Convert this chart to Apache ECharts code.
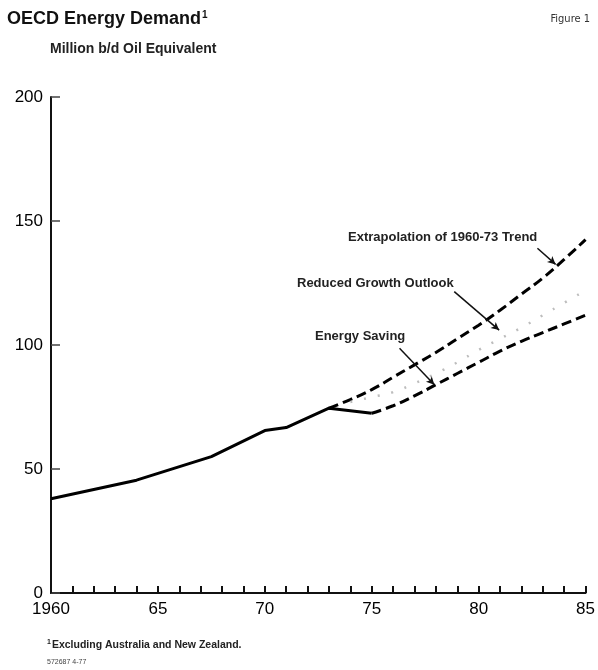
<!DOCTYPE html>
<html>
<head>
<meta charset="utf-8">
<script src="https://cdn.jsdelivr.net/npm/echarts@6/dist/echarts.min.js"></script>
<style>
html,body{margin:0;padding:0;background:#fff;}
#chart{width:598px;height:670px;}
</style>
</head>
<body>
<div id="chart"></div>
<script>
// ---- data ----
const histYears = [1960, 1964, 1967.5, 1970, 1971, 1973, 1975];
const histValues = [38, 45.5, 55, 65.5, 66.7, 74.5, 72.5];

const projYears = [1973, 1974, 1975, 1976, 1977, 1978, 1979, 1980, 1981, 1982, 1983, 1984, 1985];
const extrapolation = [74.5, 78, 82, 87, 92, 97, 102.5, 108, 114, 120.5, 127, 134.5, 142.5];

const reducedYears = [1974, 1975, 1976, 1977, 1978, 1979, 1980, 1981, 1982, 1983, 1984, 1985];
const reducedGrowth = [77, 79, 81, 84.5, 88.5, 93, 98, 102.5, 107, 112, 117, 122];

const savingYears = [1975, 1976, 1977, 1978, 1979, 1980, 1981, 1982, 1983, 1984, 1985];
const energySaving = [72.5, 75.5, 79.5, 84, 88.5, 93, 97.5, 101.5, 105, 108.5, 112];

const yTicks = [0, 50, 100, 150, 200];
const xLabelYears = [1960, 1965, 1970, 1975, 1980, 1985];

// annotation leader lines (data coordinates): [fromYear, fromValue, toYear, toValue]
const leaderExtrap = [1982.75, 139, 1983.6, 132.5];
const leaderReduced = [1978.86, 121.5, 1980.96, 106];
const leaderSaving = [1976.3, 98.7, 1977.93, 84];

const zip = (xs, ys) => xs.map((x, i) => [x, ys[i]]);

const FONT = '"Liberation Sans", Arial, Helvetica, sans-serif';
const chart = echarts.init(document.getElementById('chart'));

function leader(l) {
  return [{ coord: [l[0], l[1]] }, { coord: [l[2], l[3]] }];
}
const leaderStyle = {
  silent: true, symbol: ['none', 'arrow'], symbolSize: [6, 8], label: { show: false },
  lineStyle: { color: '#111', width: 1.5, type: 'solid' }
};

const option = {
  animation: false,
  backgroundColor: '#fff',
  grid: { left: 51, right: 12, top: 97, bottom: 77, containLabel: false },
  xAxis: {
    type: 'value', min: 1960, max: 1985, interval: 1,
    axisLine: { lineStyle: { color: '#111', width: 2 } },
    axisTick: { inside: true, length: 7, lineStyle: { color: '#111', width: 2 } },
    splitLine: { show: false },
    axisLabel: {
      margin: 8, fontFamily: FONT, fontSize: 17, color: '#000',
      formatter: v => {
        if (xLabelYears.indexOf(v) < 0) return '';
        return v === 1960 ? '1960' : String(v % 100);
      }
    }
  },
  yAxis: {
    type: 'value', min: 0, max: 200, interval: 50,
    axisLine: { show: true, lineStyle: { color: '#111', width: 2 } },
    axisTick: { show: true, inside: true, length: 9, lineStyle: { color: '#444', width: 1.5 } },
    splitLine: { show: false },
    axisLabel: { margin: 8, fontFamily: FONT, fontSize: 17, color: '#000',
      formatter: v => yTicks.indexOf(v) >= 0 ? String(v) : '' }
  },
  series: [
    {
      name: 'Historical', type: 'line', symbol: 'none',
      data: zip(histYears, histValues),
      lineStyle: { color: '#000', width: 3 }, z: 5
    },
    {
      name: 'Extrapolation of 1960-73 Trend', type: 'line', symbol: 'none', smooth: 0.5,
      data: zip(projYears, extrapolation),
      lineStyle: { color: '#000', width: 3, type: [10, 5] },
      markLine: Object.assign({ data: [leader(leaderExtrap)] }, leaderStyle)
    },
    {
      name: 'Reduced Growth Outlook', type: 'line', symbol: 'none', smooth: 0.5,
      data: zip(reducedYears, reducedGrowth),
      lineStyle: { color: '#bdbdbd', width: 2.5, type: [2, 12] },
      markLine: Object.assign({ data: [leader(leaderReduced)] }, leaderStyle)
    },
    {
      name: 'Energy Saving', type: 'line', symbol: 'none', smooth: 0.5,
      data: zip(savingYears, energySaving),
      lineStyle: { color: '#000', width: 3, type: [10, 5] },
      markLine: Object.assign({ data: [leader(leaderSaving)] }, leaderStyle)
    }
  ],
  graphic: [
    { type: 'text', left: 7, top: 10, style: {
      text: '{t|OECD Energy Demand}{s|1}', fill: '#111',
      rich: { t: { fontFamily: FONT, fontSize: 18, fontWeight: 'bold', fill: '#111' },
              s: { fontFamily: FONT, fontSize: 10, fontWeight: 'bold', fill: '#111', verticalAlign: 'top', padding: [0, 0, 8, 1] } } } },
    { type: 'text', left: 50, top: 42, style: {
      text: 'Million b/d Oil Equivalent', fontFamily: FONT, fontSize: 14, fontWeight: 'bold', fill: '#222' } },
    { type: 'text', right: 8, top: 14, style: {
      text: 'Figure 1', fontFamily: '"Liberation Sans Narrow", "DejaVu Sans Condensed", ' + FONT, fontSize: 11, fill: '#333' } },
    { type: 'text', left: 348, top: 231, style: {
      text: 'Extrapolation of 1960-73 Trend', fontFamily: FONT, fontSize: 13, fontWeight: 'bold', fill: '#222' } },
    { type: 'text', left: 297, top: 277, style: {
      text: 'Reduced Growth Outlook', fontFamily: FONT, fontSize: 13, fontWeight: 'bold', fill: '#222' } },
    { type: 'text', left: 315, top: 330, style: {
      text: 'Energy Saving', fontFamily: FONT, fontSize: 13, fontWeight: 'bold', fill: '#222' } },
    { type: 'text', left: 47, top: 639, style: {
      text: '{s|1}{t|Excluding Australia and New Zealand.}',
      rich: { t: { fontFamily: FONT, fontSize: 10.5, fontWeight: 'bold', fill: '#222' },
              s: { fontFamily: FONT, fontSize: 7, fontWeight: 'bold', fill: '#222', verticalAlign: 'top', padding: [0, 1, 5, 0] } } } },
    { type: 'text', left: 47, top: 659, style: {
      text: '572687 4-77', fontFamily: FONT, fontSize: 7, fill: '#444' } }
  ]
};
chart.setOption(option);
</script>
</body>
</html>
